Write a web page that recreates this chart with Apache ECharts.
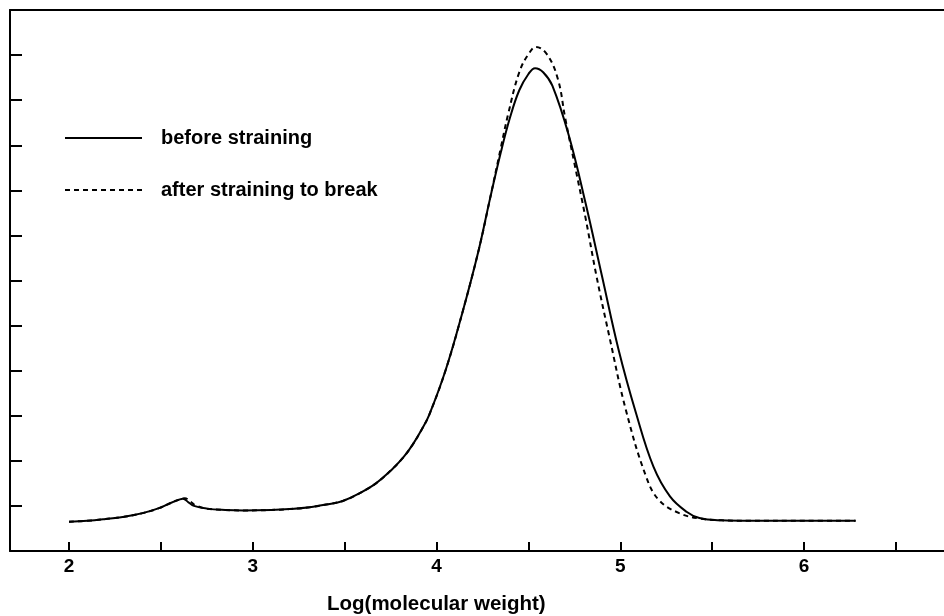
<!DOCTYPE html>
<html>
<head>
<meta charset="utf-8">
<style>html,body{margin:0;padding:0;background:#fff}#c{width:944px;height:616px}</style>
<script src="https://cdn.jsdelivr.net/npm/echarts@6/dist/echarts.min.js"></script>
</head>
<body>
<div id="c"></div>
<script>
// Log(molecular weight) values and distribution heights (y in tick units)
const beforeX = [2.00,2.10,2.20,2.30,2.40,2.49,2.55,2.60,2.62,2.65,2.68,2.75,2.85,2.95,3.10,3.20,3.31,3.40,3.49,3.58,3.67,3.76,3.82,3.87,3.92,3.96,4.05,4.14,4.23,4.29,4.35,4.40,4.45,4.50,4.536,4.58,4.63,4.72,4.81,4.90,4.99,5.085,5.18,5.27,5.36,5.43,5.55,5.70,6.00,6.28];
const beforeY = [0.65,0.67,0.71,0.76,0.84,0.95,1.06,1.14,1.16,1.08,1.00,0.94,0.91,0.90,0.91,0.93,0.97,1.03,1.11,1.28,1.50,1.82,2.08,2.36,2.70,3.02,4.02,5.28,6.69,7.80,8.85,9.62,10.22,10.58,10.71,10.62,10.32,9.21,7.73,6.10,4.47,3.06,1.87,1.21,0.87,0.73,0.68,0.67,0.67,0.67];
const afterX = [2.00,2.10,2.20,2.30,2.40,2.49,2.55,2.60,2.63,2.66,2.69,2.75,2.85,2.95,3.10,3.20,3.31,3.40,3.49,3.58,3.67,3.76,3.82,3.87,3.92,3.96,4.05,4.14,4.23,4.29,4.35,4.39,4.45,4.50,4.54,4.60,4.66,4.70,4.75,4.81,4.87,4.94,5.03,5.14,5.21,5.32,5.43,5.55,5.70,6.00,6.28];
const afterY = [0.65,0.67,0.71,0.76,0.84,0.95,1.06,1.14,1.17,1.10,1.01,0.94,0.91,0.90,0.91,0.93,0.97,1.03,1.11,1.28,1.50,1.82,2.08,2.36,2.70,3.02,4.02,5.28,6.69,7.80,8.95,9.70,10.62,11.02,11.18,11.02,10.47,9.60,8.60,7.40,6.10,4.76,3.13,1.65,1.13,0.84,0.72,0.68,0.67,0.67,0.67];
const seriesNames = ['before straining', 'after straining to break'];
const xTickValues = [2,2.5,3,3.5,4,4.5,5,5.5,6,6.5];
const xLabelValues = [2,3,4,5,6];
const xTitle = 'Log(molecular weight)';

const zip = (xs, ys) => xs.map((x, i) => [x, ys[i]]);
const chart = echarts.init(document.getElementById('c'));
const font = 'Liberation Sans, Arial, Helvetica, sans-serif';
chart.setOption({
  animation: false,
  backgroundColor: '#fff',
  grid: { left: 10, right: 0, top: 10, bottom: 65, containLabel: false },
  legend: {
    orient: 'vertical', left: 59, top: 123, itemWidth: 77, itemHeight: 16, itemGap: 32,
    itemStyle: { opacity: 0 },
    textStyle: { fontFamily: font, fontSize: 20, fontWeight: 'bold', color: '#000', padding: [0, 0, 0, 14] },
    data: seriesNames
  },
  xAxis: [{
    type: 'value', min: 1.679, max: 6.761, position: 'bottom',
    axisLine: { show: true, lineStyle: { color: '#000', width: 2 } },
    axisTick: { show: true, inside: true, length: 9, customValues: xTickValues, lineStyle: { color: '#000', width: 2 } },
    axisLabel: { customValues: xLabelValues, fontFamily: font, fontSize: 19, fontWeight: 'bold', color: '#000', margin: 6 },
    splitLine: { show: false }
  }, {
    type: 'value', min: 1.679, max: 6.761, position: 'top',
    axisLine: { show: true, lineStyle: { color: '#000', width: 2 } },
    axisTick: { show: false }, axisLabel: { show: false }, splitLine: { show: false }
  }],
  yAxis: {
    type: 'value', min: 0, max: 12, interval: 1,
    axisLine: { show: true, lineStyle: { color: '#000', width: 2 } },
    axisTick: { show: true, inside: true, length: 12, lineStyle: { color: '#000', width: 2 } },
    axisLabel: { show: false }, splitLine: { show: false }
  },
  graphic: [{
    type: 'text', left: 327, top: 594,
    style: { text: xTitle, fontFamily: font, fontSize: 20.5, fontWeight: 'bold', fill: '#000' }
  }],
  series: [{
    name: seriesNames[0], type: 'line', data: zip(beforeX, beforeY), smooth: 0.4,
    symbol: 'none', lineStyle: { color: '#000', width: 2 }, itemStyle: { color: '#000' }
  }, {
    name: seriesNames[1], type: 'line', data: zip(afterX, afterY), smooth: 0.4,
    symbol: 'none', lineStyle: { color: '#000', width: 2, type: [5, 4] }, itemStyle: { color: '#000' }
  }]
});
</script>
</body>
</html>
